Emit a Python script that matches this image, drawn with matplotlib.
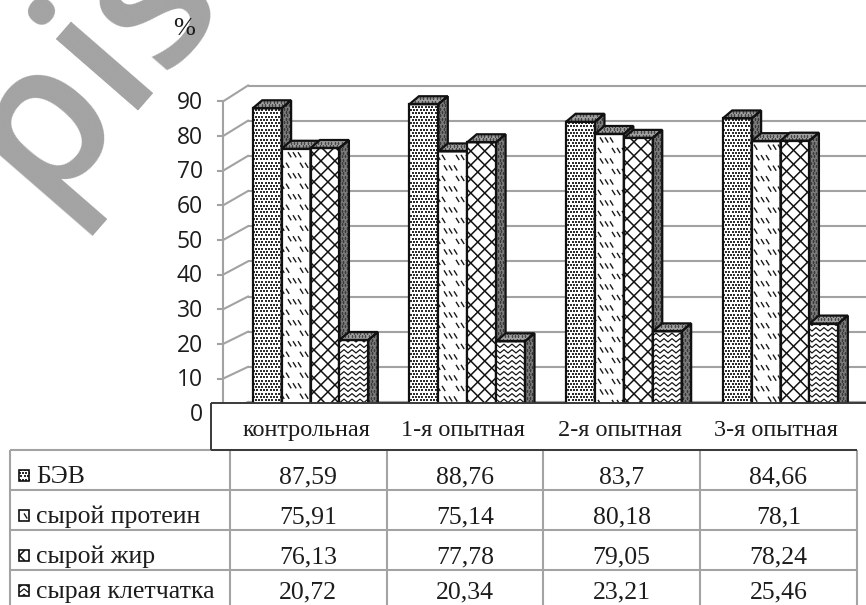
import numpy as np
import matplotlib
matplotlib.use("Agg")
import matplotlib.pyplot as plt
from matplotlib.patches import Rectangle, Polygon
from matplotlib.collections import LineCollection
from matplotlib.lines import Line2D
from matplotlib.transforms import IdentityTransform

# ---------------- data ----------------
groups = ["контрольная", "1-я опытная", "2-я опытная", "3-я опытная"]
series_names = ["БЭВ", "сырой протеин", "сырой жир", "сырая клетчатка"]
bev = [87.59, 88.76, 83.7, 84.66]
crude_protein = [75.91, 75.14, 80.18, 78.1]
crude_fat = [76.13, 77.78, 79.05, 78.24]
crude_fiber = [20.72, 20.34, 23.21, 25.46]
y_ticks = list(range(0, 91, 10))
unit_label = "%"
watermark = "pis"

series_values = [bev, crude_protein, crude_fat, crude_fiber]

W, H, DPI = 866, 605, 100
SERIF = "Liberation Serif"
plt.rcParams["font.family"] = [SERIF, "DejaVu Serif"]

fig = plt.figure(figsize=(W / DPI, H / DPI), dpi=DPI)
fig.patch.set_facecolor("white")


def frame(left, top, right, bottom):
    """Axes rectangle from pixel edges measured from the top-left corner."""
    return [left / W, 1 - bottom / H, (right - left) / W, (bottom - top) / H]


# ---------------- texture helpers (drawn in display space, clipped to a face) ----------------
def disp_bounds(patch):
    v = patch.get_path().transformed(patch.get_transform()).vertices
    return v[:, 0].min(), v[:, 1].min(), v[:, 0].max(), v[:, 1].max()


def tex_dots(axes, patch, step=3.3, size=1.45, color="#2e2e2e", z=3):
    x0, y0, x1, y1 = disp_bounds(patch)
    xs = np.arange(np.floor(x0 / step) * step - step, x1 + step, step)
    ys = np.arange(np.floor(y0 / step) * step - step, y1 + step, step)
    gx, gy = np.meshgrid(xs, ys)
    gx = gx + (np.arange(len(ys))[:, None] % 2) * step / 2
    ln = Line2D(gx.ravel(), gy.ravel(), ls="none", marker="s", ms=size, mew=0,
                color=color, transform=IdentityTransform(), zorder=z)
    axes.add_line(ln)
    ln.set_clip_path(patch)


def tex_dashes(axes, patch, color="#1a1a1a", z=3):
    x0, y0, x1, y1 = disp_bounds(patch)
    row, period = 10.5, 24.0
    segs = []
    for j, y in enumerate(np.arange(y1 - 6, y0 - row, -row)):
        shift = (j % 2) * period / 2
        start = np.floor(x0 / period) * period - period + shift
        for gx in np.arange(start, x1 + period, period):
            for m in range(3):
                sx = gx + m * 5.0
                segs.append([(sx, y + 2.6), (sx + 3.2, y - 2.6)])
    lc = LineCollection(segs, colors=color, linewidths=1.0,
                        transform=IdentityTransform(), zorder=z)
    axes.add_collection(lc, autolim=False)
    lc.set_clip_path(patch)


def tex_lattice(axes, patch, step=14.0, color="#111111", z=3):
    x0, y0, x1, y1 = disp_bounds(patch)
    h = y1 - y0
    segs = []
    for c in np.arange(np.floor((x0 - h) / step) * step, x1 + step, step):
        segs.append([(c, y0), (c + h, y1)])
        segs.append([(c, y1), (c + h, y0)])
    lc = LineCollection(segs, colors=color, linewidths=1.1,
                        transform=IdentityTransform(), zorder=z)
    axes.add_collection(lc, autolim=False)
    lc.set_clip_path(patch)


def tex_waves(axes, patch, gap=5.5, period=8.0, amp=1.7, color="#111111", z=3):
    x0, y0, x1, y1 = disp_bounds(patch)
    xs = np.arange(np.floor(x0 / period) * period - period, x1 + period, period / 2)
    zig = amp * np.where(np.arange(len(xs)) % 2 == 0, 1.0, -1.0)
    segs = [np.column_stack([xs, y + zig]) for y in np.arange(y0, y1 + gap, gap)]
    lc = LineCollection(segs, colors=color, linewidths=0.85,
                        transform=IdentityTransform(), zorder=z)
    axes.add_collection(lc, autolim=False)
    lc.set_clip_path(patch)


front_textures = [tex_dots, tex_dashes, tex_lattice, tex_waves]

# ---------------- back wall with gridlines ----------------
WALL_PX_PER_UNIT = 316.5 / 90
wall_bottom = 402 + 3 * WALL_PX_PER_UNIT
wall_top = 402 - 95 * WALL_PX_PER_UNIT
wall = fig.add_axes(frame(248, wall_top, 866, wall_bottom))
wall.set_ylim(-3, 95)
wall.set_xlim(0, 1)
wall.set_yticks(y_ticks)
wall.set_xticks([])
wall.grid(axis="y", color="#a2a2a2", lw=1.5)
wall.tick_params(length=0, labelleft=False, labelbottom=False)
for s in wall.spines.values():
    s.set_visible(False)

# ---------------- main bar axes ----------------
BAR_PX_PER_UNIT = 3.465
ax_bottom = 411.8
ax_top = ax_bottom - 100 * BAR_PX_PER_UNIT
ax = fig.add_axes(frame(230, ax_top, 856.67, ax_bottom))
ax.set_xlim(-0.5, len(groups) - 0.5)
ax.set_ylim(0, 100)
ax.patch.set_visible(False)
for s in ax.spines.values():
    s.set_visible(False)
ax.set_xticks([])
ax.set_yticks(y_ticks)
ax.set_yticklabels([str(t) for t in y_ticks], fontfamily=["Open Sans", "DejaVu Sans"],
                   fontsize=16.5, color="#1c1c1c")
ax.tick_params(axis="y", length=0, pad=19.4)

col_px = (ax.transData.transform((1, 0))[0] - ax.transData.transform((0, 0))[0])
bar_w = 28.9 / col_px
group_start = -0.355
ddx = 9.5 / col_px
ddy = 8.0 / BAR_PX_PER_UNIT

# left wall: front edge, ticks and receding lines to the back gridlines
wall_line = dict(color="#a2a2a2", lw=1.5, clip_on=False, transform=IdentityTransform())
front_pts = []
for v in y_ticks:
    fxp, fyp = ax.transData.transform((-0.5, v))
    fxp -= 7
    fyp -= 1.5
    bxp, byp = wall.transData.transform((0, v))
    front_pts.append((fxp, fyp))
    wall.add_line(Line2D([fxp, bxp], [fyp, byp], **wall_line))
    wall.add_line(Line2D([fxp - 5, fxp], [fyp, fyp], **wall_line))
wall.add_line(Line2D([front_pts[0][0]] * 2, [front_pts[0][1], front_pts[-1][1]], **wall_line))

# bars
outline = dict(fc="none", ec="#111111", lw=1.6, joinstyle="miter", zorder=3)
for i in range(len(groups)):
    for k, vals in enumerate(series_values):
        v = vals[i]
        x0 = i + group_start + k * bar_w
        x1 = x0 + bar_w

        front = Rectangle((x0, 0), bar_w, v, fc="white", ec="none", zorder=3)
        ax.add_patch(front)
        front_textures[k](ax, front)

        side_xy = [(x1, 0), (x1 + ddx, ddy), (x1 + ddx, v + ddy), (x1, v)]
        side = Polygon(side_xy, closed=True, fc="#7a7a7a", ec="none", zorder=3)
        ax.add_patch(side)
        tex_dots(ax, side, step=3.4, size=1.2, color="#3a3a3a")

        top_xy = [(x0, v), (x0 + ddx, v + ddy), (x1 + ddx, v + ddy), (x1, v)]
        top = Polygon(top_xy, closed=True, fc="#a0a0a0", ec="none", zorder=3)
        ax.add_patch(top)
        tex_dots(ax, top, step=3.4, size=1.2, color="#474747")

        ax.add_patch(Rectangle((x0, 0), bar_w, v, **outline))
        ax.add_patch(Polygon(side_xy, closed=True, **outline))
        ax.add_patch(Polygon(top_xy, closed=True, **outline))

# ---------------- overlay: header, data table, labels ----------------
lay = fig.add_axes([0, 0, 1, 1], zorder=5)
lay.set_xlim(0, W)
lay.set_ylim(H, 0)
lay.axis("off")
lay.patch.set_visible(False)

lay.text(40, 205, watermark, rotation=49, rotation_mode="anchor", ha="left",
         va="baseline", fontsize=145, fontfamily=["Open Sans", "DejaVu Sans"],
         fontweight=600, color="#a3a3a3", zorder=0.5)
lay.text(184, 29, unit_label, ha="center", va="center", fontsize=19, color="#1c1c1c")

col_edges = [ax.transData.transform((i - 0.5, 0))[0] for i in range(len(groups) + 1)]
col_mid = [ax.transData.transform((i, 0))[0] for i in range(len(groups))]

# category header box
HDR_TOP, HDR_BOT = 403, 450
lay.add_patch(Rectangle((210.7, HDR_TOP), W - 210.7, HDR_BOT - HDR_TOP, fc="white",
                        ec="none", zorder=1))
dark = dict(color="#3a3a3a", lw=1.4, zorder=3, solid_capstyle="butt")
lay.plot([210.7, W], [HDR_TOP, HDR_TOP], **dark)
lay.plot([210.7, 210.7], [HDR_TOP, HDR_BOT], **dark)
for xm, name in zip(col_mid, groups):
    lay.text(xm - 2, 436, name, ha="center", va="baseline", fontsize=17.5,
             color="#1c1c1c", zorder=4)

# data table
ROW_TOP = 450
ROW_H = 40
TABLE_LEFT = 10
row_baselines = [483, 523, 563, 598]
TABLE_FS = 18.5
grid = dict(color="#a3a3a3", lw=1.5, zorder=2, solid_capstyle="butt")
for r in range(len(series_names)):
    yl = ROW_TOP + r * ROW_H
    lay.plot([TABLE_LEFT, col_edges[-1]], [yl, yl], **grid)
for xe in [TABLE_LEFT] + col_edges:
    lay.plot([xe, xe], [ROW_TOP, H + 5], **grid)
lay.plot([210.7, col_edges[-1]], [HDR_BOT, HDR_BOT], **dark)

swatch_textures = [tex_dots, tex_dashes, tex_lattice, tex_waves]
for r, (name, vals) in enumerate(zip(series_names, series_values)):
    base = row_baselines[r]
    sw_top = base - 13
    sw = Rectangle((18.5, sw_top), 10.5, 11, fc="white", ec="none", zorder=3)
    lay.add_patch(sw)
    swatch_textures[r](lay, sw, z=3)
    lay.add_patch(Rectangle((18.5, sw_top), 10.5, 11, fc="none", ec="#111111",
                            lw=1.2, zorder=3))
    lay.text(36, base, name, ha="left", va="baseline", fontsize=TABLE_FS,
             color="#1c1c1c", zorder=4)
    for xm, v in zip(col_mid, vals):
        lay.text(xm, base, f"{v:g}".replace(".", ","), ha="center", va="baseline",
                 fontsize=TABLE_FS, color="#1c1c1c", zorder=4)

fig.savefig("out.png", dpi=DPI, facecolor="white")
